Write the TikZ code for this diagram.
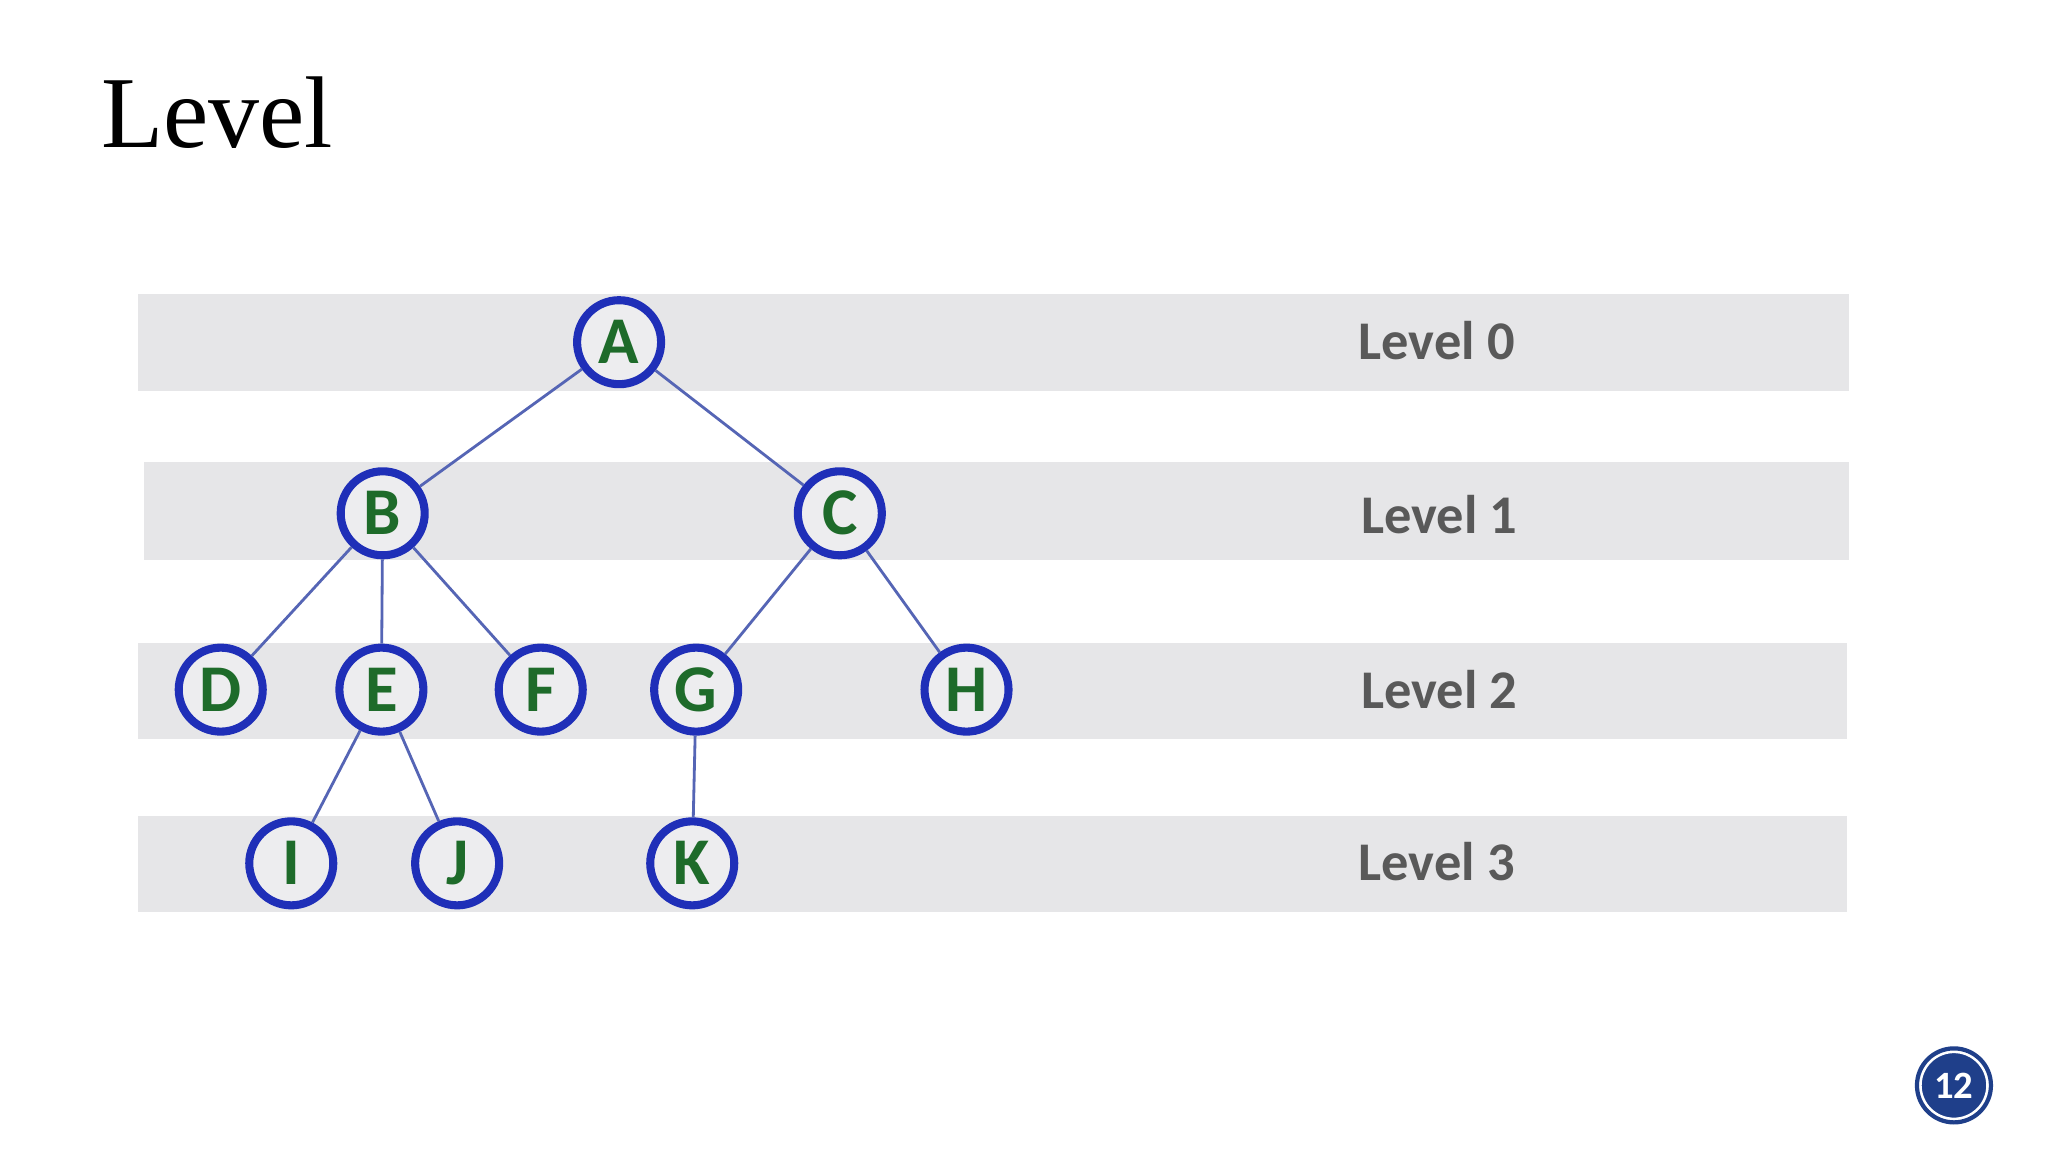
\documentclass[tikz,border=0pt]{standalone}
\usepackage{fontspec}
\setmainfont{Liberation Serif}
\newfontfamily\labelfont{Carlito}
\usetikzlibrary{positioning}
\definecolor{bandgray}{HTML}{E6E6E8}
\definecolor{ringblue}{HTML}{1F2FB8}
\definecolor{leafgreen}{HTML}{1E6B2A}
\definecolor{edgeblue}{HTML}{5565B5}
\definecolor{badgeblue}{HTML}{1F3F8A}
\begin{document}
\begin{tikzpicture}[x={(0.01306cm,0)}, y={(0,-0.01306cm)},
    band/.style={fill=bandgray, draw=none},
    vert/.style={draw=ringblue, line width=2.3pt, circle, fill=bandgray!70!white, minimum size=0.84cm, inner sep=0pt, font=\labelfont\bfseries\fontsize{19}{19}\selectfont, text=leafgreen},
    lvl/.style={font=\labelfont\bfseries\fontsize{15.5}{15.5}\selectfont, text=black!65},
    edge/.style={draw=edgeblue, line width=0.8pt}
]
\useasboundingbox (0,0) rectangle (1568,882);
\fill[white] (0,0) rectangle (1568,882);

% title
\node[anchor=west, font=\fontsize{29}{29}\selectfont] (title) at (68,86) {Level};

% level bands
\fill[band] (106,225) rectangle (1416,299);
\fill[band] (110,354) rectangle (1416,429);
\fill[band] (106,492) rectangle (1414,566);
\fill[band] (106,625) rectangle (1414,698);
\node[lvl] (l0) at (1100,261) {Level 0};
\node[lvl] (l1) at (1102,394) {Level 1};
\node[lvl] (l2) at (1102,528) {Level 2};
\node[lvl] (l3) at (1100,660) {Level 3};

% tree
\node[vert] (A) at (474,262) {A};
\node[vert] (B) at (293,393) {B};
\node[vert] (C) at (643,393) {C};
\node[vert] (D) at (169,528) {D};
\node[vert] (E) at (292,528) {E};
\node[vert] (F) at (414,528) {F};
\node[vert] (G) at (533,528) {G};
\node[vert] (H) at (740,528) {H};
\node[vert] (I) at (223,661) {I};
\node[vert] (J) at (350,661) {J};
\node[vert] (K) at (530,661) {K};
\foreach \p/\c in {A/B,A/C,B/D,B/E,B/F,C/G,C/H,E/I,E/J,G/K} {
    \draw[edge] (\p) -- (\c);
}

% page number
\node[circle, fill=badgeblue, draw=white, line width=1pt, minimum size=0.68cm, inner sep=0pt,
      text=white, font=\labelfont\bfseries\fontsize{11}{11}\selectfont] (page) at (1496,831) {12};
\draw[badgeblue, line width=1.2pt] (page) circle (0.37cm);
\end{tikzpicture}
\end{document}
